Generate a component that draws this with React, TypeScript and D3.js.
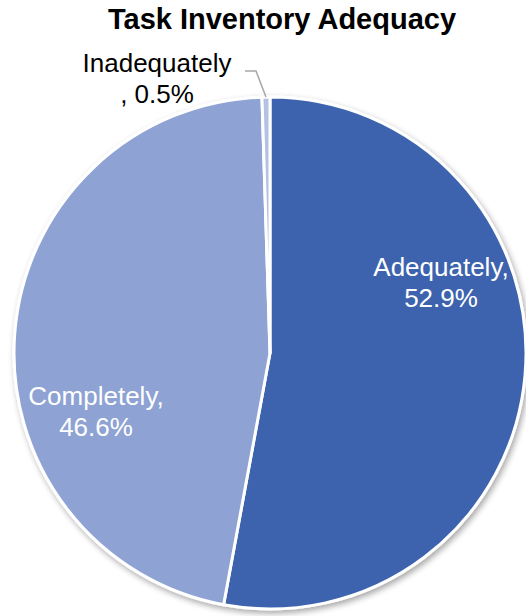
import React from "react";
import * as d3 from "d3";

const categories = ["Adequately", "Completely", "Inadequately"];
const values = [52.9, 46.6, 0.5];
const colors = ["#3D64AE", "#8EA3D3", "#B3C1E3"];
const title = "Task Inventory Adequacy";

const W = 526;
const H = 616;
const cx = 270;
const cy = 353;
const R = 256;

// label anchor offsets (relative to pie center) for each slice, and line 1 / line 2 text
const labelLayout = [
  { dx: 171, dy: -77, l1: (c: string, v: string) => `${c},`, l2: (c: string, v: string) => v },
  { dx: -174, dy: 52, l1: (c: string, v: string) => `${c},`, l2: (c: string, v: string) => v },
  { dx: -113, dy: -281, l1: (c: string, v: string) => c, l2: (c: string, v: string) => `, ${v}` },
];

export default function App() {
  const data = categories.map((c, i) => ({ c, v: values[i], color: colors[i] }));
  const pie = d3.pie<any>().value((d) => d.v).sort(null).startAngle(0).endAngle(2 * Math.PI);
  const arcs = pie(data);
  const arc = d3.arc<any>().innerRadius(0).outerRadius(R);
  const outer = d3.arc<any>().innerRadius(R).outerRadius(R);

  // leader line for the tiny slice
  const tiny = arcs[2];
  const [ex, ey] = outer.centroid(tiny);
  const leader = d3.line()([
    [-25, -282],
    [-14, -282],
    [ex, ey],
  ]);

  return (
    <svg
      width={W}
      height={H}
      style={{ position: "fixed", left: 0, top: 0, display: "block", background: "#fff" }}
      fontFamily="'Liberation Sans', Arial, sans-serif"
    >
      <defs>
        <filter id="sh" x="-10%" y="-10%" width="130%" height="130%">
          <feGaussianBlur in="SourceAlpha" stdDeviation="3" />
          <feOffset dx="2" dy="3" result="b" />
          <feComponentTransfer>
            <feFuncA type="linear" slope="0.35" />
          </feComponentTransfer>
          <feMerge>
            <feMergeNode />
            <feMergeNode in="SourceGraphic" />
          </feMerge>
        </filter>
      </defs>
      <text x={282} y={29} textAnchor="middle" fontSize={29} fontWeight="bold" fill="#000">
        {title}
      </text>
      <g transform={`translate(${cx},${cy})`}>
        <g filter="url(#sh)">
          {arcs.map((a, i) => (
            <path key={i} d={arc(a) as string} fill={a.data.color} stroke="#fff" strokeWidth={3} strokeLinejoin="round" />
          ))}
        </g>
        <path d={leader as string} fill="none" stroke="#A6A6A6" strokeWidth={1.5} />
        {arcs.map((a, i) => {
          const L = labelLayout[i];
          const vs = `${a.data.v.toFixed(1)}%`;
          const fill = i === 2 ? "#000" : "#fff";
          return (
            <text key={i} x={L.dx} y={L.dy} textAnchor="middle" fontSize={26} fill={fill}>
              <tspan x={L.dx} dy={0}>{L.l1(a.data.c, vs)}</tspan>
              <tspan x={L.dx} dy={31}>{L.l2(a.data.c, vs)}</tspan>
            </text>
          );
        })}
      </g>
    </svg>
  );
}
